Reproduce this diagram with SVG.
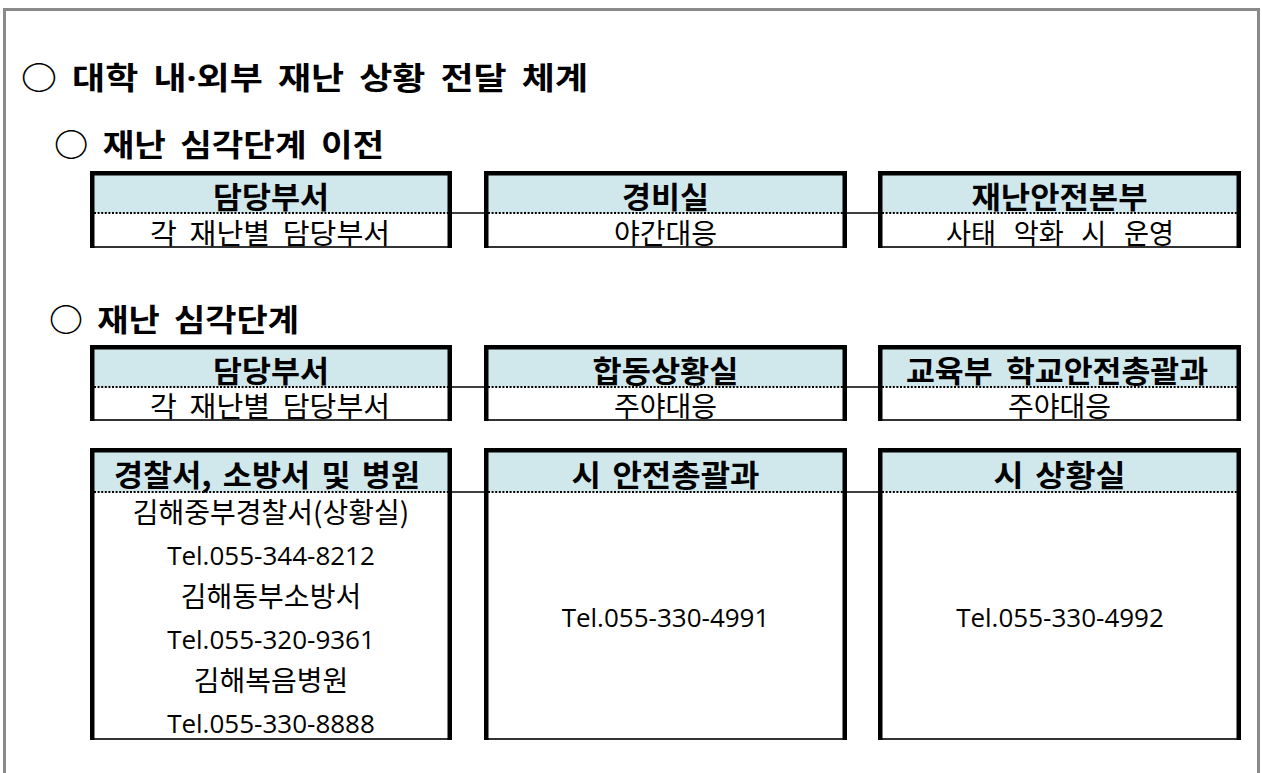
<svg xmlns="http://www.w3.org/2000/svg" width="1262" height="773" viewBox="0 0 1262 773">
<style>
.k{font-family:"Noto Sans CJK KR","Noto Sans",sans-serif;fill:#000}
.b{font-weight:bold;font-size:31px}
.h{font-weight:bold;font-size:30px;text-anchor:middle}
.r{font-size:28px;text-anchor:middle}
.tel{font-family:"Open Sans","Noto Sans",sans-serif;font-size:26px;text-anchor:middle;fill:#000}
.nd{font-family:"Noto Sans",sans-serif}
.hdr{fill:#D0E8EC}
.body{fill:#fff}
.frame{fill:none;stroke:#000;stroke-width:4.5;stroke-linejoin:miter}
.bot{stroke:#333;stroke-width:2}
.dot{stroke:#000;stroke-width:2;stroke-dasharray:2 1.6}
.conn{stroke:#000;stroke-width:1.5;fill:none}
</style>
<rect x="0" y="0" width="1262" height="773" fill="#fff"/>
<rect x="4.5" y="9.5" width="1254" height="800" fill="none" stroke="#8a8a8a" stroke-width="3"/>

<g id="headings">
<text class="k b" x="21" y="89" word-spacing="6" textLength="567" lengthAdjust="spacingAndGlyphs">○ 대학 내<tspan class="nd">·</tspan>외부 재난 상황 전달 체계</text>
<text class="k b" x="54" y="156" word-spacing="6" textLength="330" lengthAdjust="spacingAndGlyphs">○ 재난 심각단계 이전</text>
<text class="k b" x="49" y="331" word-spacing="6" textLength="250" lengthAdjust="spacingAndGlyphs">○ 재난 심각단계</text>
</g>

<g id="connectors">
<line class="conn" x1="452" y1="213" x2="484" y2="213"/>
<line class="conn" x1="847" y1="213" x2="878" y2="213"/>
<line class="conn" x1="452" y1="387" x2="484" y2="387"/>
<line class="conn" x1="847" y1="387" x2="878" y2="387"/>
<line class="conn" x1="452" y1="492" x2="484" y2="492"/>
<line class="conn" x1="847" y1="492" x2="878" y2="492"/>
</g>

<!-- Row 1 -->
<g id="r1c1">
<rect class="hdr" x="90" y="171" width="362" height="42"/><rect class="body" x="90" y="213" width="362" height="35"/>
<line class="dot" x1="94" y1="213" x2="448" y2="213"/>
<line class="bot" x1="90" y1="247" x2="452" y2="247"/>
<path class="frame" d="M92.25,248 V173.25 H449.75 V248"/>
<text class="k h" x="271" y="208" textLength="116" lengthAdjust="spacingAndGlyphs">담당부서</text>
<text class="k r" x="270" y="244" word-spacing="6" textLength="240" lengthAdjust="spacingAndGlyphs">각 재난별 담당부서</text>
</g>
<g id="r1c2">
<rect class="hdr" x="484" y="171" width="363" height="42"/><rect class="body" x="484" y="213" width="363" height="35"/>
<line class="dot" x1="488" y1="213" x2="843" y2="213"/>
<line class="bot" x1="484" y1="247" x2="847" y2="247"/>
<path class="frame" d="M486.25,248 V173.25 H844.75 V248"/>
<text class="k h" x="665.5" y="208" textLength="87" lengthAdjust="spacingAndGlyphs">경비실</text>
<text class="k r" x="665.5" y="244">야간대응</text>
</g>
<g id="r1c3">
<rect class="hdr" x="878" y="171" width="363" height="42"/><rect class="body" x="878" y="213" width="363" height="35"/>
<line class="dot" x1="882" y1="213" x2="1237" y2="213"/>
<line class="bot" x1="878" y1="247" x2="1241" y2="247"/>
<path class="frame" d="M880.25,248 V173.25 H1238.75 V248"/>
<text class="k h" x="1059.5" y="208" textLength="176" lengthAdjust="spacingAndGlyphs">재난안전본부</text>
<text class="k r" x="1060" y="244" word-spacing="12" textLength="228" lengthAdjust="spacingAndGlyphs">사태 악화 시 운영</text>
</g>

<!-- Row 2 -->
<g id="r2c1">
<rect class="hdr" x="90" y="345" width="362" height="42"/><rect class="body" x="90" y="387" width="362" height="34"/>
<line class="dot" x1="94" y1="387" x2="448" y2="387"/>
<line class="bot" x1="90" y1="420" x2="452" y2="420"/>
<path class="frame" d="M92.25,421 V347.25 H449.75 V421"/>
<text class="k h" x="271" y="382" textLength="116" lengthAdjust="spacingAndGlyphs">담당부서</text>
<text class="k r" x="270" y="417" word-spacing="6" textLength="240" lengthAdjust="spacingAndGlyphs">각 재난별 담당부서</text>
</g>
<g id="r2c2">
<rect class="hdr" x="484" y="345" width="363" height="42"/><rect class="body" x="484" y="387" width="363" height="34"/>
<line class="dot" x1="488" y1="387" x2="843" y2="387"/>
<line class="bot" x1="484" y1="420" x2="847" y2="420"/>
<path class="frame" d="M486.25,421 V347.25 H844.75 V421"/>
<text class="k h" x="665.5" y="382" textLength="146" lengthAdjust="spacingAndGlyphs">합동상황실</text>
<text class="k r" x="665.5" y="417">주야대응</text>
</g>
<g id="r2c3">
<rect class="hdr" x="878" y="345" width="363" height="42"/><rect class="body" x="878" y="387" width="363" height="34"/>
<line class="dot" x1="882" y1="387" x2="1237" y2="387"/>
<line class="bot" x1="878" y1="420" x2="1241" y2="420"/>
<path class="frame" d="M880.25,421 V347.25 H1238.75 V421"/>
<text class="k h" x="1057" y="382" word-spacing="6" textLength="302" lengthAdjust="spacingAndGlyphs">교육부 학교안전총괄과</text>
<text class="k r" x="1059.5" y="417">주야대응</text>
</g>

<!-- Row 3 -->
<g id="r3c1">
<rect class="hdr" x="90" y="448" width="362" height="44"/><rect class="body" x="90" y="492" width="362" height="248"/>
<line class="dot" x1="94" y1="492" x2="448" y2="492"/>
<line class="bot" x1="90" y1="739" x2="452" y2="739"/>
<path class="frame" d="M92.25,740 V450.25 H449.75 V740"/>
<text class="k h" x="267" y="486" word-spacing="4" textLength="306" lengthAdjust="spacingAndGlyphs">경찰서, 소방서 및 병원</text>
<text class="k r" x="271" y="523">김해중부경찰서(상황실)</text>
<text class="tel" x="271" y="565">Tel.055-344-8212</text>
<text class="k r" x="271" y="607">김해동부소방서</text>
<text class="tel" x="271" y="649">Tel.055-320-9361</text>
<text class="k r" x="271" y="691">김해복음병원</text>
<text class="tel" x="271" y="733">Tel.055-330-8888</text>
</g>
<g id="r3c2">
<rect class="hdr" x="484" y="448" width="363" height="44"/><rect class="body" x="484" y="492" width="363" height="248"/>
<line class="dot" x1="488" y1="492" x2="843" y2="492"/>
<line class="bot" x1="484" y1="739" x2="847" y2="739"/>
<path class="frame" d="M486.25,740 V450.25 H844.75 V740"/>
<text class="k h" x="665.5" y="486" word-spacing="4" textLength="188" lengthAdjust="spacingAndGlyphs">시 안전총괄과</text>
<text class="tel" x="665.5" y="627">Tel.055-330-4991</text>
</g>
<g id="r3c3">
<rect class="hdr" x="878" y="448" width="363" height="44"/><rect class="body" x="878" y="492" width="363" height="248"/>
<line class="dot" x1="882" y1="492" x2="1237" y2="492"/>
<line class="bot" x1="878" y1="739" x2="1241" y2="739"/>
<path class="frame" d="M880.25,740 V450.25 H1238.75 V740"/>
<text class="k h" x="1059.5" y="486" word-spacing="4" textLength="132" lengthAdjust="spacingAndGlyphs">시 상황실</text>
<text class="tel" x="1060" y="627">Tel.055-330-4992</text>
</g>
</svg>
